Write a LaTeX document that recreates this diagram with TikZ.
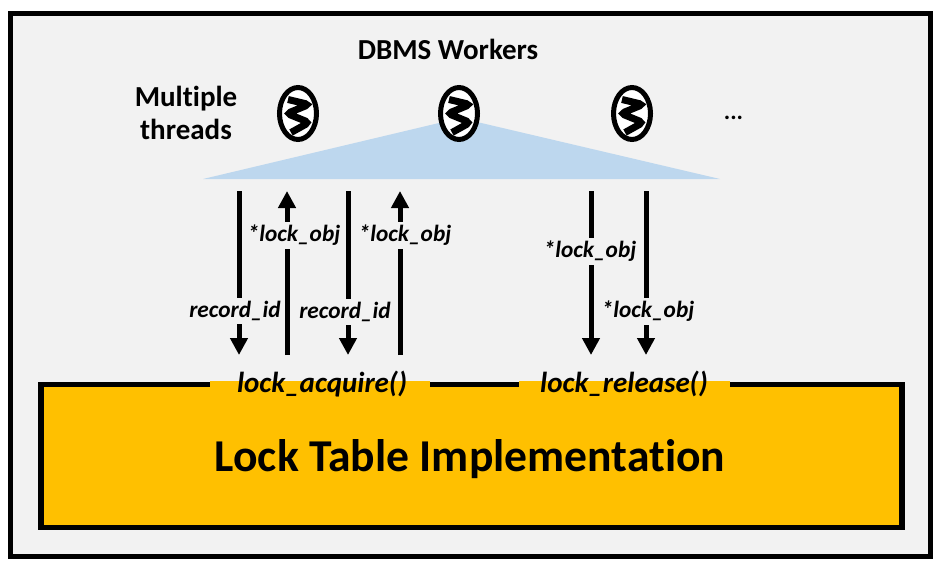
\documentclass[tikz,border=0pt]{standalone}
\usepackage{fontspec}
\setmainfont[Ligatures=NoCommon]{Carlito}
\usetikzlibrary{arrows.meta,shapes.geometric}

\definecolor{panelgray}{HTML}{F2F2F2}
\definecolor{tableorange}{HTML}{FFC000}
\definecolor{fanblue}{HTML}{BDD7EE}

\tikzset{
  every node/.style={outer sep=0pt},
  call arrow/.style={line width=5pt, -{Triangle[length=17pt, width=17pt]}},
  call label/.style={fill=panelgray, inner xsep=1pt, inner ysep=3pt,
                     font=\fontsize{23.3}{25}\selectfont\bfseries\itshape},
  thread/.style={ellipse, draw, line width=5pt, fill=white, inner sep=0pt,
                 minimum width=37pt, minimum height=52pt},
  spring/.style={line width=7pt, line cap=butt, rounded corners=4pt},
  head text/.style={font=\fontsize{29}{33}\selectfont\bfseries, align=center},
  func text/.style={font=\fontsize{29}{32}\selectfont\bfseries\itshape}
}

\begin{document}
\begin{tikzpicture}[x=1pt, y=-1pt]

\useasboundingbox (0,0) rectangle (941,562);

% outer panel
\node[draw, line width=5pt, fill=panelgray, minimum width=920pt, minimum height=542.5pt,
      inner sep=0pt, anchor=north west](panel) at (10.5,13.5) {};

% fan out to the workers
\fill[fanblue] (203,179) -- (460,118) -- (720,179) -- cycle;

% worker threads
\foreach \name/\xpos in {one/298, two/459, three/632} {
  \node[thread](\name) at (\xpos,113.5) {};
  \draw[spring] (\xpos-10,99.5) -- (\xpos+11,104.5) -- (\xpos-11,113.5) -- (\xpos+11,122.5) -- (\xpos-7,132.5);
}

\node[head text](workers) at (448,49) {DBMS Workers};
\node[head text](threads) at (186,112.5) {Multiple\\threads};
\node[head text,font=\fontsize{24}{28}\selectfont\bfseries](dots) at (733.5,118) {...};

% lock table
\node[draw, line width=5.5pt, fill=tableorange, minimum width=861pt, minimum height=143pt,
      inner sep=0pt, anchor=north west](table) at (41,384.5) {};
\fill[tableorange] (210,381) rectangle (430,388);
\fill[tableorange] (519,381) rectangle (730,388);
\node[font=\fontsize{45.6}{48}\selectfont\bfseries](tablename) at (470,459) {Lock Table Implementation};
\node[func text](acquire) at (322,384) {lock\_acquire()};
\node[func text](release) at (624,384) {lock\_release()};

% calls
\foreach \name/\xpos in {a/239, b/287, c/348, d/400, e/591, f/646} {
  \coordinate (\name-top) at (\xpos,191);
  \coordinate (\name-bot) at (\xpos,355);
}

\draw[call arrow] (a-top) -- (a-bot);
\draw[call arrow] (b-bot) -- (b-top);
\draw[call arrow] (c-top) -- (c-bot);
\draw[call arrow] (d-bot) -- (d-top);
\draw[call arrow] (e-top) -- (e-bot);
\draw[call arrow] (f-top) -- (f-bot);

\node[call label](id1) at (235,311) {record\_id};
\node[call label](obj1) at (294,235.5) {*lock\_obj};
\node[call label](id2) at (345,312) {record\_id};
\node[call label](obj2) at (405,235.5) {*lock\_obj};
\node[call label](obj3) at (590,251.5) {*lock\_obj};
\node[call label](obj4) at (648,311.5) {*lock\_obj};

\end{tikzpicture}
\end{document}
